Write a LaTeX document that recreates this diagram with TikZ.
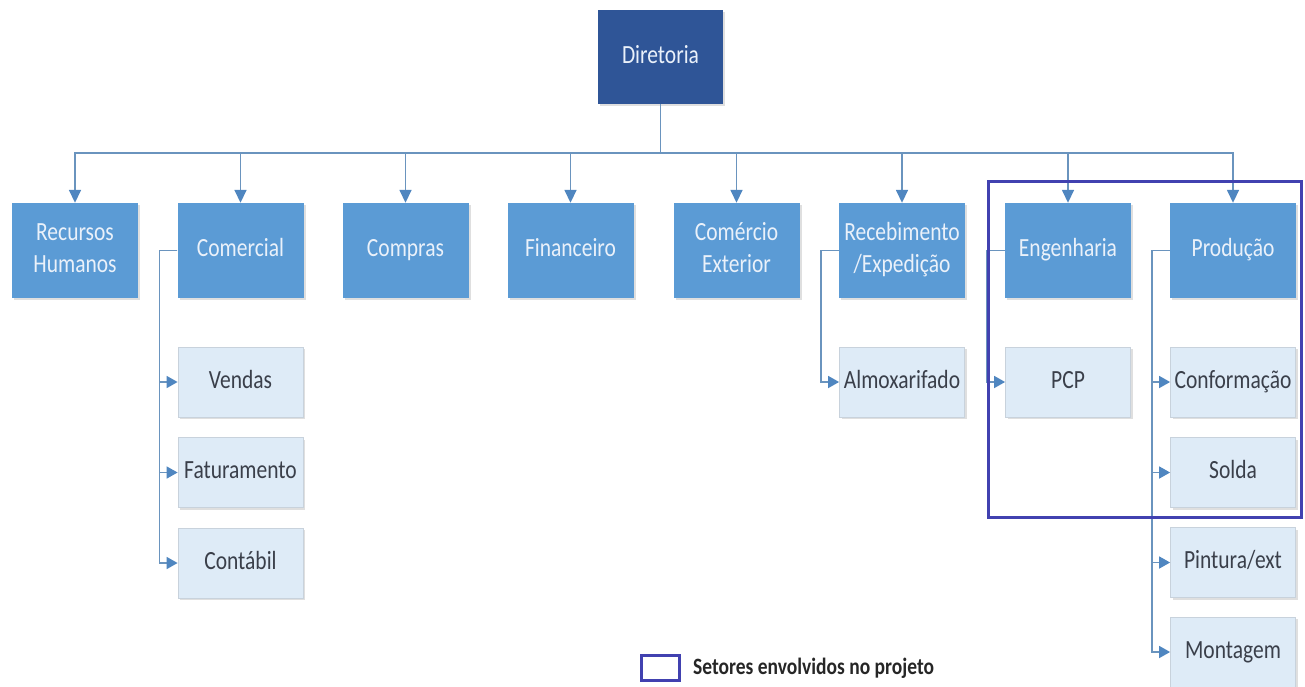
\documentclass[tikz,border=0pt]{standalone}
\usepackage{fontspec}
\setmainfont{Carlito}
\usetikzlibrary{arrows.meta,shadows}
\definecolor{darkbox}{HTML}{2F5597}
\definecolor{midbox}{HTML}{5B9BD5}
\definecolor{lightbox}{HTML}{DEEBF7}
\definecolor{lightborder}{HTML}{C8D2DC}
\definecolor{conncol}{HTML}{6A94BE}
\definecolor{tipcol}{HTML}{4F86C0}
\definecolor{purplecol}{HTML}{4141B0}
\definecolor{lighttext}{HTML}{EAF1FA}
\definecolor{darktext}{HTML}{3A3F4A}
\newcommand\tx[1]{\scalebox{1}[1.22]{\begin{tabular}{@{}c@{}}#1\end{tabular}}}
\tikzset{
  base/.style={rectangle, inner sep=0pt, align=center,
    font=\fontsize{21.5}{26}\selectfont,
    drop shadow={opacity=0.25, shadow xshift=2pt, shadow yshift=-2pt}},
  topbox/.style={base, fill=midbox, text=lighttext, minimum width=126pt, minimum height=95pt},
  dirbox/.style={base, fill=darkbox, text=lighttext, minimum width=125pt, minimum height=94pt},
  subbox/.style={base, fill=lightbox, draw=lightborder, line width=0.8pt, text=darktext, minimum width=125pt, minimum height=70pt},
  conn/.style={draw=conncol, line width=1.6pt},
  arr/.style={conn, -{Triangle[length=13pt,width=12pt,color=tipcol]}},
  sarr/.style={conn, -{Triangle[length=11pt,width=12pt,color=tipcol]}},
}
\begin{document}
\begin{tikzpicture}[x=1pt,y=-1pt]
\useasboundingbox (0,0) rectangle (1305,686);
\fill[white] (0,0) rectangle (1305,686);

\node[dirbox] (dir) at (660.5,57) {\tx{Diretoria}};

\node[topbox] (rh)  at (75,250.5)   {\tx{Recursos\\Humanos}};
\node[topbox] (com) at (240.5,250.5) {\tx{Comercial}};
\node[topbox] (cmp) at (405.5,250.5) {\tx{Compras}};
\node[topbox] (fin) at (570.5,250.5) {\tx{Financeiro}};
\node[topbox] (cex) at (736.5,250.5) {\tx{Comércio\\Exterior}};
\node[topbox] (rec) at (902,250.5)   {\tx{Recebimento\\/Expedição}};
\node[topbox] (eng) at (1068,250.5)  {\tx{Engenharia}};
\node[topbox] (pro) at (1233,250.5)  {\tx{Produção}};

\node[subbox] (ven) at (240.5,382) {\tx{Vendas}};
\node[subbox] (fat) at (240.5,472.5) {\tx{Faturamento}};
\node[subbox] (cont) at (240.5,563) {\tx{Contábil}};
\node[subbox] (alm) at (902,382) {\tx{Almoxarifado}};
\node[subbox] (pcp) at (1068,382) {\tx{PCP}};
\node[subbox] (conf) at (1233,382) {\tx{Conformação}};
\node[subbox] (sol) at (1233,472.5) {\tx{Solda}};
\node[subbox] (pin) at (1233,562.5) {\tx{Pintura/ext}};
\node[subbox] (mon) at (1233,652) {\tx{Montagem}};

\coordinate (bus) at (660.5,153);
\draw[conn] (dir.south) -- (bus);
\foreach \n in {rh,com,cmp,fin,cex,rec,eng,pro}
  \draw[arr] (bus) -| (\n.north);

\draw[sarr] (com.west) -- ++(-18,0) |- (ven.west);
\draw[sarr] (com.west) -- ++(-18,0) |- (fat.west);
\draw[sarr] (com.west) -- ++(-18,0) |- (cont.west);
\draw[sarr] (rec.west) -- ++(-18,0) |- (alm.west);
\draw[sarr] (eng.west) -- ++(-18,0) |- (pcp.west);
\draw[sarr] (pro.west) -- ++(-18,0) |- (conf.west);
\draw[sarr] (pro.west) -- ++(-18,0) |- (sol.west);
\draw[sarr] (pro.west) -- ++(-18,0) |- (pin.west);
\draw[sarr] (pro.west) -- ++(-18,0) |- (mon.west);

\draw[draw=purplecol, line width=3pt] (988.5,181.5) rectangle (1301.5,517.5);

\node[draw=purplecol, line width=3pt, minimum width=38pt, minimum height=25pt, inner sep=0pt] (leg) at (660,667.5) {};
\node[anchor=west, inner sep=0pt, text=black!85, font=\fontsize{19.5}{22}\selectfont\bfseries] (legt) at (693,668) {\scalebox{1}[1.2]{Setores envolvidos no projeto}};
\end{tikzpicture}
\end{document}
